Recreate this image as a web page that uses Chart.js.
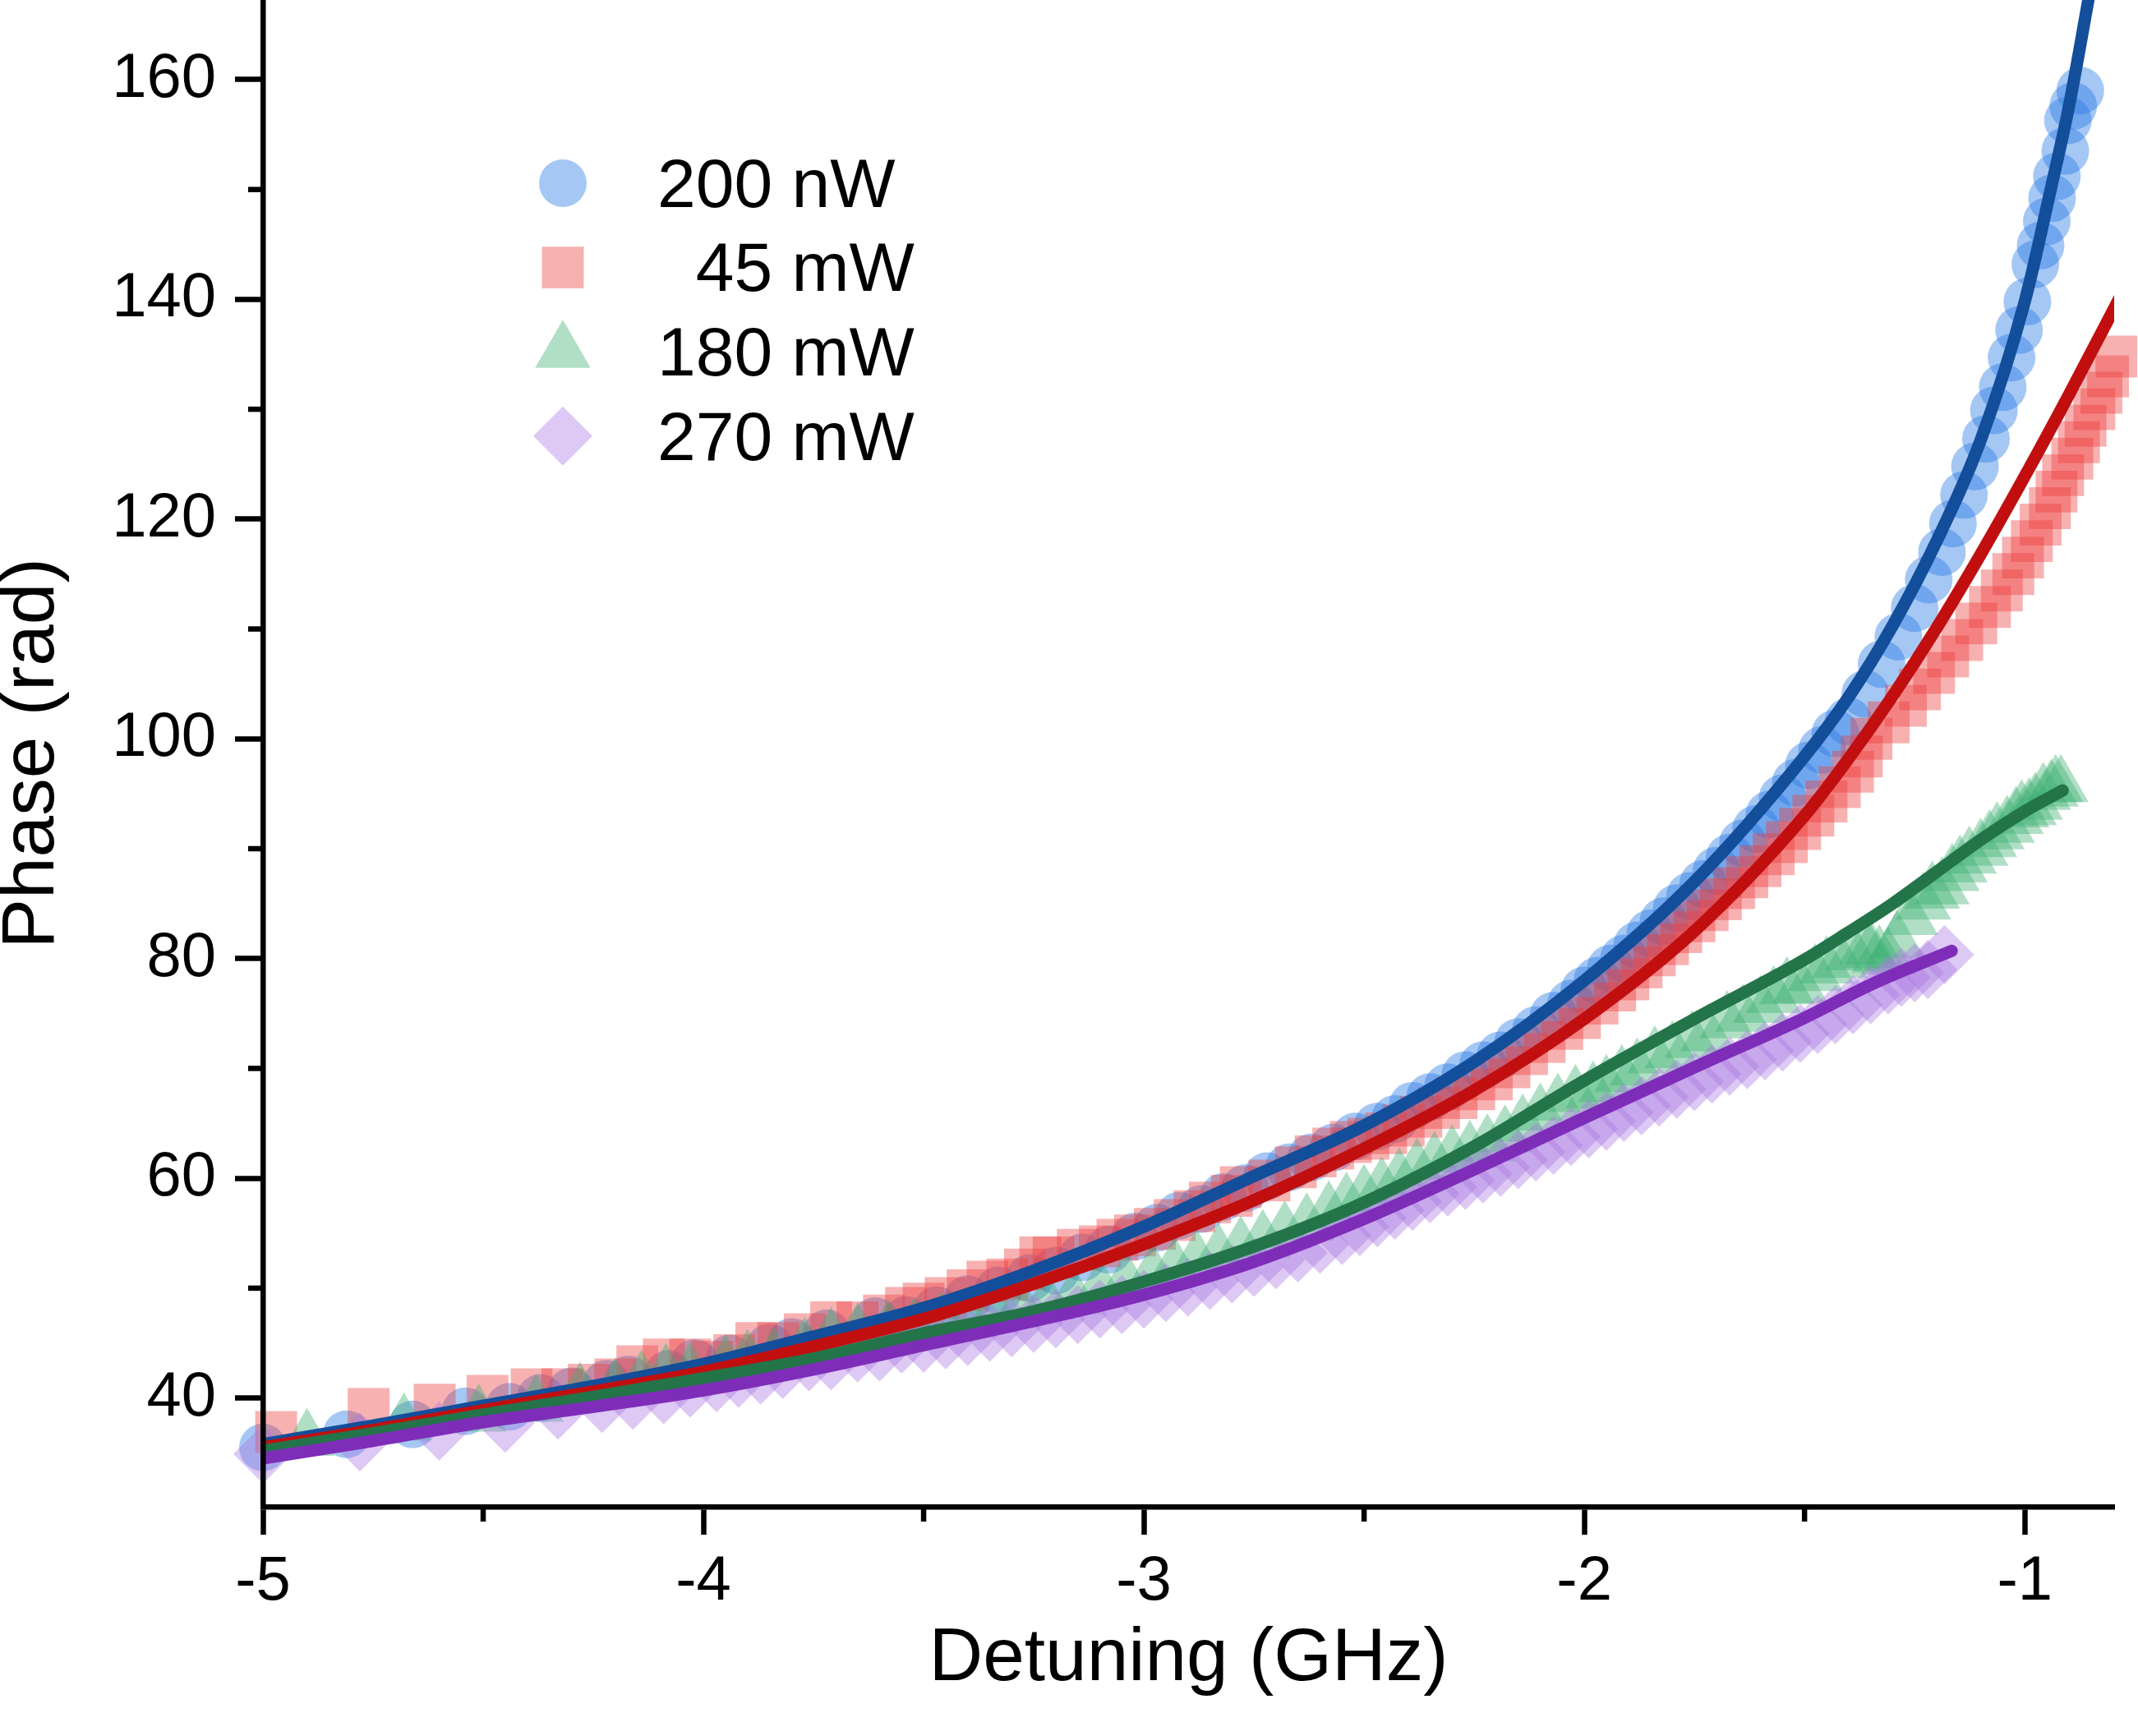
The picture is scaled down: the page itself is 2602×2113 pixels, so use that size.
<!DOCTYPE html>
<html>
<head>
<meta charset="utf-8">
<script src="https://cdn.jsdelivr.net/npm/chart.js@4.4.1/dist/chart.umd.min.js"></script>
<style>
  html, body { margin: 0; padding: 0; background: #fff; }
  canvas { display: block; }
</style>
</head>
<body>
<canvas id="chart" width="2602" height="2113"></canvas>
<script>
const x200nW = [-5.00,-4.81,-4.66,-4.54,-4.44,-4.37,-4.30,-4.22,-4.17,-4.08,-4.02,-3.94,-3.85,-3.80,-3.72,-3.61,
  -3.54,-3.47,-3.40,-3.33,-3.26,-3.20,-3.14,-3.08,-3.02,-2.97,-2.92,-2.87,-2.82,-2.77,-2.72,-2.67,-2.62,-2.57,-2.52,-2.47,
  -2.43,-2.39,-2.35,-2.31,-2.27,-2.23,-2.19,-2.15,-2.11,-2.07,-2.03,-2.00,-1.97,-1.94,-1.91,-1.88,-1.85,-1.82,-1.79,-1.76,
  -1.73,-1.70,-1.67,-1.64,-1.61,-1.58,-1.55,-1.52,-1.49,-1.46,-1.43,
  -1.400,-1.362,-1.325,-1.287,-1.250,-1.218,-1.188,-1.163,-1.138,-1.113,-1.088,-1.070,-1.050,-1.030,-1.013,-0.994,-0.976,
  -0.964,-0.950,-0.938,-0.927,-0.908,-0.902,-0.890,-0.874];
const y200nW = [35.5,36.7,37.6,38.8,39.2,40.0,40.6,41.3,41.7,42.2,43.2,43.6,44.6,45.1,45.9,47.0,
  47.1,48.0,49.0,49.8,50.9,51.6,52.8,53.5,54.7,55.5,56.6,57.2,58.3,59.1,60.2,61.0,61.9,62.8,63.8,64.7,
  65.4,66.6,67.4,68.3,69.4,70.3,71.2,72.4,73.5,74.8,75.9,77.1,78.0,79.1,80.0,81.2,82.3,83.4,84.6,85.7,
  86.8,88.0,89.2,90.5,91.8,93.1,94.6,96.0,97.6,99.0,100.5,
  101.6,104.1,106.8,109.3,111.9,114.5,117.0,119.6,122.2,124.8,127.3,129.9,132.0,134.7,137.2,139.8,143.2,
  144.9,147.1,149.2,151.2,153.5,156.3,157.6,159.0];

const x45mW = [-4.97,-4.76,-4.61,-4.49,-4.39,-4.32,-4.26,-4.20,-4.15,-4.09,-4.03,-3.98,-3.93,-3.88,-3.83,-3.77,-3.71,-3.65,-3.59,
  -3.54,-3.50,-3.45,-3.40,-3.355,-3.31,-3.27,-3.235,-3.205,-3.15,-3.10,-3.06,-3.02,-2.975,-2.93,-2.885,-2.85,-2.80,-2.78,-2.715,-2.655,
  -2.61,-2.57,-2.53,-2.49,-2.45,-2.41,-2.37,-2.33,-2.29,-2.25,-2.21,-2.17,-2.13,-2.09,-2.05,-2.01,-1.97,-1.93,-1.90,-1.87,
  -1.84,-1.81,-1.78,-1.75,-1.72,-1.69,-1.66,-1.63,-1.60,-1.57,-1.54,-1.51,-1.48,-1.45,-1.42,-1.39,-1.37,
  -1.348,-1.309,-1.270,-1.238,-1.206,-1.174,-1.142,-1.110,-1.079,-1.052,-1.026,-1.004,-0.984,-0.964,-0.943,-0.928,-0.913,
  -0.892,-0.877,-0.862,-0.842,-0.826,-0.811,-0.792];
const y45mW = [36.9,39.0,39.4,40.2,40.8,40.8,41.2,41.7,42.9,43.5,43.5,43.3,43.9,45.0,45.0,45.8,46.9,46.9,47.5,
  48.2,48.6,49.1,49.8,50.6,50.8,51.7,52.8,52.8,53.5,53.8,54.4,54.8,55.4,56.2,57.0,57.8,58.4,59.2,59.8,61.0,
  62.0,62.7,63.3,63.6,64.1,64.8,65.6,66.4,67.3,68.1,69.0,70.1,71.3,72.4,73.6,74.6,75.9,77.1,78.1,79.2,
  80.3,81.3,82.4,83.4,84.4,85.4,86.4,87.4,88.4,89.5,90.6,91.8,93.0,94.3,95.6,97.0,98.4,
  100.0,101.5,103.0,104.5,106.0,107.5,109.0,110.5,112.0,113.5,115.0,116.5,118.0,119.5,121.0,122.5,124.0,
  125.5,127.0,128.5,130.0,131.5,133.0,134.8];

const x180mW = [-4.90,-4.68,-4.51,-4.38,-4.28,-4.20,-4.14,-4.085,-4.03,-3.95,-3.90,-3.84,-3.77,-3.71,-3.65,-3.58,
  -3.52,-3.46,-3.40,-3.34,-3.28,-3.22,-3.16,-3.10,-3.04,-2.98,-2.93,-2.88,-2.83,-2.78,-2.73,-2.68,-2.63,-2.58,-2.54,-2.50,
  -2.46,-2.42,-2.38,-2.34,-2.30,-2.26,-2.22,-2.18,-2.14,-2.10,-2.06,-2.02,-1.98,-1.95,-1.915,-1.88,-1.84,-1.80,-1.755,-1.72,
  -1.676,-1.64,-1.60,-1.57,-1.54,-1.51,-1.476,-1.45,-1.42,-1.39,-1.36,-1.35,-1.33,-1.31,-1.29,-1.26,-1.23,-1.21,-1.188,
  -1.165,-1.147,-1.126,-1.10,-1.08,-1.063,-1.04,-1.02,-1.007,-0.99,-0.976,-0.958,-0.94,-0.93,-0.918];
const y180mW = [36.2,37.6,38.4,39.3,40.4,40.8,41.5,42.1,42.2,42.9,43.4,43.6,44.5,45.4,45.8,46.1,
  46.3,46.8,47.2,47.7,48.2,48.6,49.1,49.9,50.5,51.2,51.8,52.5,53.0,53.7,54.3,55.1,55.8,56.9,57.7,58.4,
  59.1,59.9,60.8,61.4,62.0,62.4,63.0,63.8,64.8,65.8,66.7,67.5,67.8,68.4,69.3,69.9,71.0,71.5,72.4,73.0,
  74.2,74.8,75.6,76.5,77.3,77.4,78.5,79.2,79.7,80.4,80.9,80.6,80.2,80.0,81.5,83.6,85.0,86.0,86.4,
  87.6,88.4,89.2,89.9,90.7,91.4,92.0,92.8,93.4,93.6,94.1,95.0,95.3,95.7,95.7];

const x270mW = [-5.00,-4.78,-4.60,-4.45,-4.33,-4.23,-4.16,-4.09,-4.03,-3.97,-3.92,-3.87,-3.82,-3.76,-3.71,-3.65,-3.60,-3.55,
  -3.50,-3.45,-3.40,-3.35,-3.30,-3.25,-3.20,-3.15,-3.10,-3.05,-3.00,-2.95,-2.90,-2.85,-2.80,-2.75,-2.70,-2.65,-2.60,-2.55,
  -2.51,-2.47,-2.43,-2.39,-2.35,-2.31,-2.27,-2.23,-2.19,-2.15,-2.11,-2.07,-2.03,-1.99,-1.95,-1.91,-1.87,-1.83,-1.79,-1.75,
  -1.71,-1.67,-1.63,-1.59,-1.55,-1.51,-1.47,-1.43,-1.39,-1.35,-1.31,-1.28,-1.25,-1.22,-1.182];
const y270mW = [34.9,36.0,37.0,37.7,38.9,39.5,39.8,40.3,40.9,41.4,41.8,42.1,42.6,43.3,43.4,44.1,44.2,44.9,
  45.0,45.3,45.6,46.0,46.4,46.8,47.2,47.6,48.1,48.5,49.0,49.6,50.1,50.7,51.3,51.9,52.6,53.2,54.0,54.8,
  55.6,56.4,57.1,57.9,58.6,59.2,59.8,60.4,61.0,61.7,62.4,63.0,63.8,64.5,65.2,66.0,66.6,67.4,68.1,68.8,
  69.5,70.2,70.8,71.6,72.4,73.2,74.0,74.9,75.8,76.7,77.6,78.3,78.7,79.0,80.35];

// fitted curves
const fit200nWX = [-5.0,-4.75,-4.5,-4.25,-4.0,-3.75,-3.5,-3.25,-3.0,-2.75,-2.5,-2.25,-2.0,-1.75,-1.5,-1.4,-1.3,-1.2,-1.1,-1.0,-0.94,-0.9,-0.85];
const fit200nWY = [35.8,37.5,39.3,41.1,43.1,45.6,48.2,51.6,55.6,60.2,64.8,70.6,78.0,87.0,98.4,103.8,110.3,118.0,127.2,139.8,150.2,157.5,168.5];
const fit45mWX = [-5.0,-4.75,-4.5,-4.25,-4.0,-3.75,-3.5,-3.25,-3.0,-2.75,-2.5,-2.25,-2.0,-1.75,-1.5,-1.4,-1.3,-1.2,-1.1,-1.0,-0.9,-0.78];
const fit45mWY = [35.5,37.1,38.9,40.6,42.4,44.7,47.2,50.4,54.0,58.0,62.7,68.0,74.5,82.5,93.0,98.2,103.9,110.1,116.8,123.9,131.3,140.5];
const fit180mWX = [-5.0,-4.75,-4.5,-4.25,-4.0,-3.75,-3.5,-3.25,-3.0,-2.75,-2.5,-2.25,-2.0,-1.75,-1.5,-1.4,-1.3,-1.2,-1.1,-1.0,-0.914];
const fit180mWY = [35.2,36.8,38.5,40.1,41.8,43.6,45.9,47.9,50.6,53.8,57.8,62.9,68.9,74.5,79.9,82.4,85.0,87.9,90.8,93.4,95.3];
const fit270mWX = [-5.0,-4.75,-4.5,-4.25,-4.0,-3.75,-3.5,-3.25,-3.0,-2.75,-2.5,-2.25,-2.0,-1.75,-1.5,-1.34,-1.166];
const fit270mWY = [34.5,36.1,37.8,39.2,40.7,42.6,44.8,47.0,49.4,52.4,56.3,60.8,65.5,70.1,74.6,77.8,80.7];

const seriesLabels = ['200 nW', '  45 mW', '180 mW', '270 mW'];
const xTicks = [-5, -4, -3, -2, -1];
const xMinorTicks = [-4.5, -3.5, -2.5, -1.5];
const yTicks = [40, 60, 80, 100, 120, 140, 160];
const yMinorTicks = [50, 70, 90, 110, 130, 150];

const FONT = '"Liberation Sans", Arial, Helvetica, sans-serif';
const markerColor = ['rgba(40,122,228,0.42)', 'rgba(238,60,60,0.40)', 'rgba(60,176,112,0.40)', 'rgba(170,120,225,0.40)'];
const fitColor = ['#134e9b', '#c10f10', '#24744a', '#7e2db9'];
const markerStyle = ['circle', 'rect', 'triangle', 'rectRot'];
const markerSize = [29, 36, 39, 36];

const pts = (xs, ys) => xs.map((v, i) => ({ x: v, y: ys[i] }));
const measured = [pts(x200nW, y200nW), pts(x45mW, y45mW), pts(x180mW, y180mW), pts(x270mW, y270mW)];
const fits = [pts(fit200nWX, fit200nWY), pts(fit45mWX, fit45mWY), pts(fit180mWX, fit180mWY), pts(fit270mWX, fit270mWY)];

const datasets = [];
measured.forEach((d, i) => {
  datasets.push({
    type: 'scatter',
    label: seriesLabels[i],
    data: d,
    pointStyle: markerStyle[i],
    pointRadius: markerSize[i],
    pointHoverRadius: markerSize[i],
    backgroundColor: markerColor[i],
    borderWidth: 0,
    clip: false,
    order: 10 - i
  });
});
fits.forEach((d, i) => {
  datasets.push({
    type: 'line',
    label: seriesLabels[i] + ' fit',
    data: d,
    borderColor: fitColor[i],
    borderWidth: 15,
    pointRadius: 0,
    pointHoverRadius: 0,
    cubicInterpolationMode: 'monotone',
    borderCapStyle: 'round',
    borderJoinStyle: 'round',
    fill: false,
    order: 4 - i
  });
});

// fallback marker painter in case helpers are missing
function paintMarker(ctx, style, r, x, y) {
  if (Chart.helpers && Chart.helpers.drawPoint) {
    Chart.helpers.drawPoint(ctx, { pointStyle: style, radius: r, rotation: 0, borderWidth: 0 }, x, y);
    return;
  }
  ctx.beginPath();
  if (style === 'rect') {
    const s = Math.SQRT1_2 * r;
    ctx.rect(x - s, y - s, 2 * s, 2 * s);
  } else if (style === 'triangle') {
    for (let k = 0; k < 3; k++) {
      const a = k * 2 * Math.PI / 3;
      ctx[k ? 'lineTo' : 'moveTo'](x + Math.sin(a) * r, y - Math.cos(a) * r);
    }
    ctx.closePath();
  } else if (style === 'rectRot') {
    ctx.moveTo(x - r, y); ctx.lineTo(x, y - r); ctx.lineTo(x + r, y); ctx.lineTo(x, y + r);
    ctx.closePath();
  } else {
    ctx.arc(x, y, r, 0, Math.PI * 2);
  }
  ctx.fill();
}

const minorTicks = {
  id: 'minorTicks',
  afterDraw(chart) {
    const { ctx } = chart;
    const xs = chart.scales.x, ys = chart.scales.y;
    ctx.save();
    ctx.strokeStyle = '#000';
    ctx.lineWidth = 6.5;
    xMinorTicks.forEach(v => {
      const px = xs.getPixelForValue(v);
      ctx.beginPath(); ctx.moveTo(px, xs.top); ctx.lineTo(px, xs.top + 18); ctx.stroke();
    });
    yMinorTicks.forEach(v => {
      const py = ys.getPixelForValue(v);
      ctx.beginPath(); ctx.moveTo(ys.right, py); ctx.lineTo(ys.right - 18, py); ctx.stroke();
    });
    ctx.restore();
  }
};

const insideLegend = {
  id: 'insideLegend',
  afterDraw(chart) {
    const { ctx } = chart;
    ctx.save();
    ctx.font = '84px ' + FONT;
    ctx.textAlign = 'left';
    ctx.textBaseline = 'alphabetic';
    seriesLabels.forEach((txt, i) => {
      const cy = 223 + 102.6 * i;
      ctx.fillStyle = markerColor[i];
      paintMarker(ctx, markerStyle[i], markerSize[i], 685, cy);
      ctx.fillStyle = '#000';
      ctx.fillText(txt, 800, cy + 28.7);
    });
    ctx.restore();
  }
};

new Chart(document.getElementById('chart'), {
  type: 'scatter',
  data: { datasets },
  options: {
    responsive: false,
    devicePixelRatio: 1,
    animation: false,
    events: [],
    layout: { autoPadding: false, padding: { left: 0, right: 29, top: 0, bottom: 0 } },
    plugins: { legend: { display: false }, tooltip: { enabled: false } },
    scales: {
      x: {
        type: 'linear',
        position: 'bottom',
        min: -5,
        max: -0.797,
        afterBuildTicks: s => { s.ticks = xTicks.map(v => ({ value: v })); },
        afterFit: s => { s.height = 279; s.paddingLeft = 0; s.paddingRight = 0; },
        grid: { drawOnChartArea: false, drawTicks: true, tickLength: 34, tickWidth: 6.5, tickColor: '#000', z: 1 },
        border: { display: true, color: '#000', width: 6.5, z: 1 },
        ticks: { color: '#000', font: { family: FONT, size: 76 }, padding: 12, maxRotation: 0, autoSkip: false },
        title: { display: true, text: 'Detuning (GHz)', color: '#000', font: { family: FONT, size: 91, lineHeight: 1.14 }, padding: { top: 0, bottom: 41 } }
      },
      y: {
        type: 'linear',
        position: 'left',
        min: 30.1,
        max: 167.25,
        afterBuildTicks: s => { s.ticks = yTicks.map(v => ({ value: v })); },
        afterFit: s => { s.width = 320; s.paddingTop = 0; s.paddingBottom = 0; },
        grid: { drawOnChartArea: false, drawTicks: true, tickLength: 34, tickWidth: 6.5, tickColor: '#000', z: 1 },
        border: { display: true, color: '#000', width: 6.5, z: 1 },
        ticks: { color: '#000', font: { family: FONT, size: 76 }, padding: 23, autoSkip: false },
        title: { display: true, text: 'Phase (rad)', color: '#000', font: { family: FONT, size: 91, lineHeight: 0.88 }, padding: 0 }
      }
    }
  },
  plugins: [minorTicks, insideLegend]
});
</script>
</body>
</html>
